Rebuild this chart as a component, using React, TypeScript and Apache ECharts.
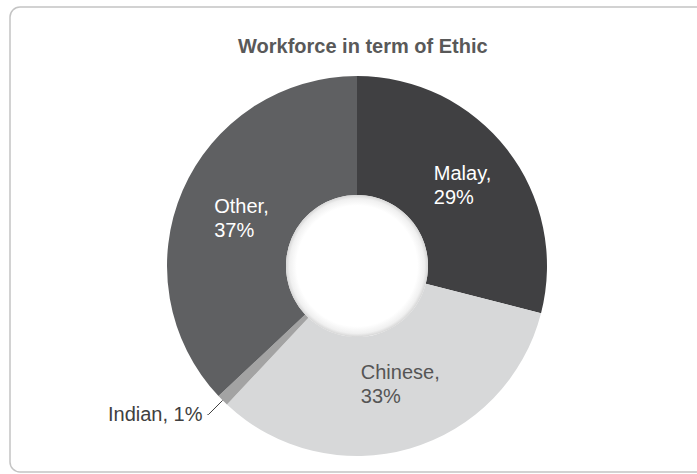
import React, { useEffect, useRef } from "react";
import * as echarts from "echarts";

const title = "Workforce in term of Ethic";
const categories = ["Malay", "Chinese", "Indian", "Other"];
const values = [29, 33, 1, 37];
const colors = ["#404042", "#d7d8d9", "#a3a3a3", "#5f6062"];
const labelColors = ["#ffffff", "#555555", "#404040", "#ffffff"];
const labelOffsets: Record<string, number[]> = {
  Malay: [0, 1],
  Chinese: [6, -10],
  Other: [7, 5],
};

export default function App() {
  const ref = useRef<HTMLDivElement>(null);
  useEffect(() => {
    if (!ref.current) return;
    const chart = echarts.init(ref.current, null, { renderer: "svg" });
    const font = "'Liberation Sans', Arial, Helvetica, sans-serif";
    const data = categories.map((name, i) => {
      const isIndian = name === "Indian";
      return {
        name,
        value: values[i],
        itemStyle: { color: colors[i] },
        label: isIndian
          ? {
              show: true,
              position: "outside",
              formatter: "{b}, {c}%",
              color: labelColors[i],
              fontSize: 20,
              fontFamily: font,
            }
          : {
              show: true,
              position: "inside",
              formatter: "{t|{b},}\n{t|{c}%}",
              offset: labelOffsets[name],
              rich: {
                t: {
                  color: labelColors[i],
                  fontSize: 20,
                  lineHeight: 24,
                  fontFamily: font,
                  align: "left",
                },
              },
            },
        labelLine: isIndian
          ? { show: true, length: 20, length2: 1, lineStyle: { color: "#404040", width: 1 } }
          : { show: false },
      };
    });
    chart.setOption({
      animation: false,
      title: {
        text: title,
        left: 233,
        top: 31,
        textStyle: { fontSize: 20, fontWeight: "bold", color: "#595959", fontFamily: font },
      },
      graphic: [
        {
          type: "rect",
          shape: { x: 10, y: 7, width: 720, height: 465, r: 10 },
          style: { fill: "none", stroke: "#c4c4c4", lineWidth: 1.5 },
          silent: true,
          z: -10,
        },
      ],
      series: [
        {
          type: "pie",
          center: [357, 266],
          radius: [71, 190],
          startAngle: 90,
          clockwise: true,
          avoidLabelOverlap: false,
          silent: true,
          data,
        },
        {
          type: "pie",
          center: [357, 266],
          radius: [0, 71],
          silent: true,
          label: { show: false },
          labelLine: { show: false },
          data: [
            {
              value: 1,
              itemStyle: {
                color: {
                  type: "radial",
                  x: 0.5,
                  y: 0.5,
                  r: 0.5,
                  colorStops: [
                    { offset: 0, color: "#ffffff" },
                    { offset: 0.85, color: "#ffffff" },
                    { offset: 0.95, color: "#f0f0f0" },
                    { offset: 1, color: "#d6d6d6" },
                  ],
                },
              },
            },
          ],
        },
      ],
    });
    return () => chart.dispose();
  }, []);
  return (
    <div
      ref={ref}
      style={{ position: "absolute", left: 0, top: 0, width: 697, height: 474, background: "#ffffff" }}
    />
  );
}
